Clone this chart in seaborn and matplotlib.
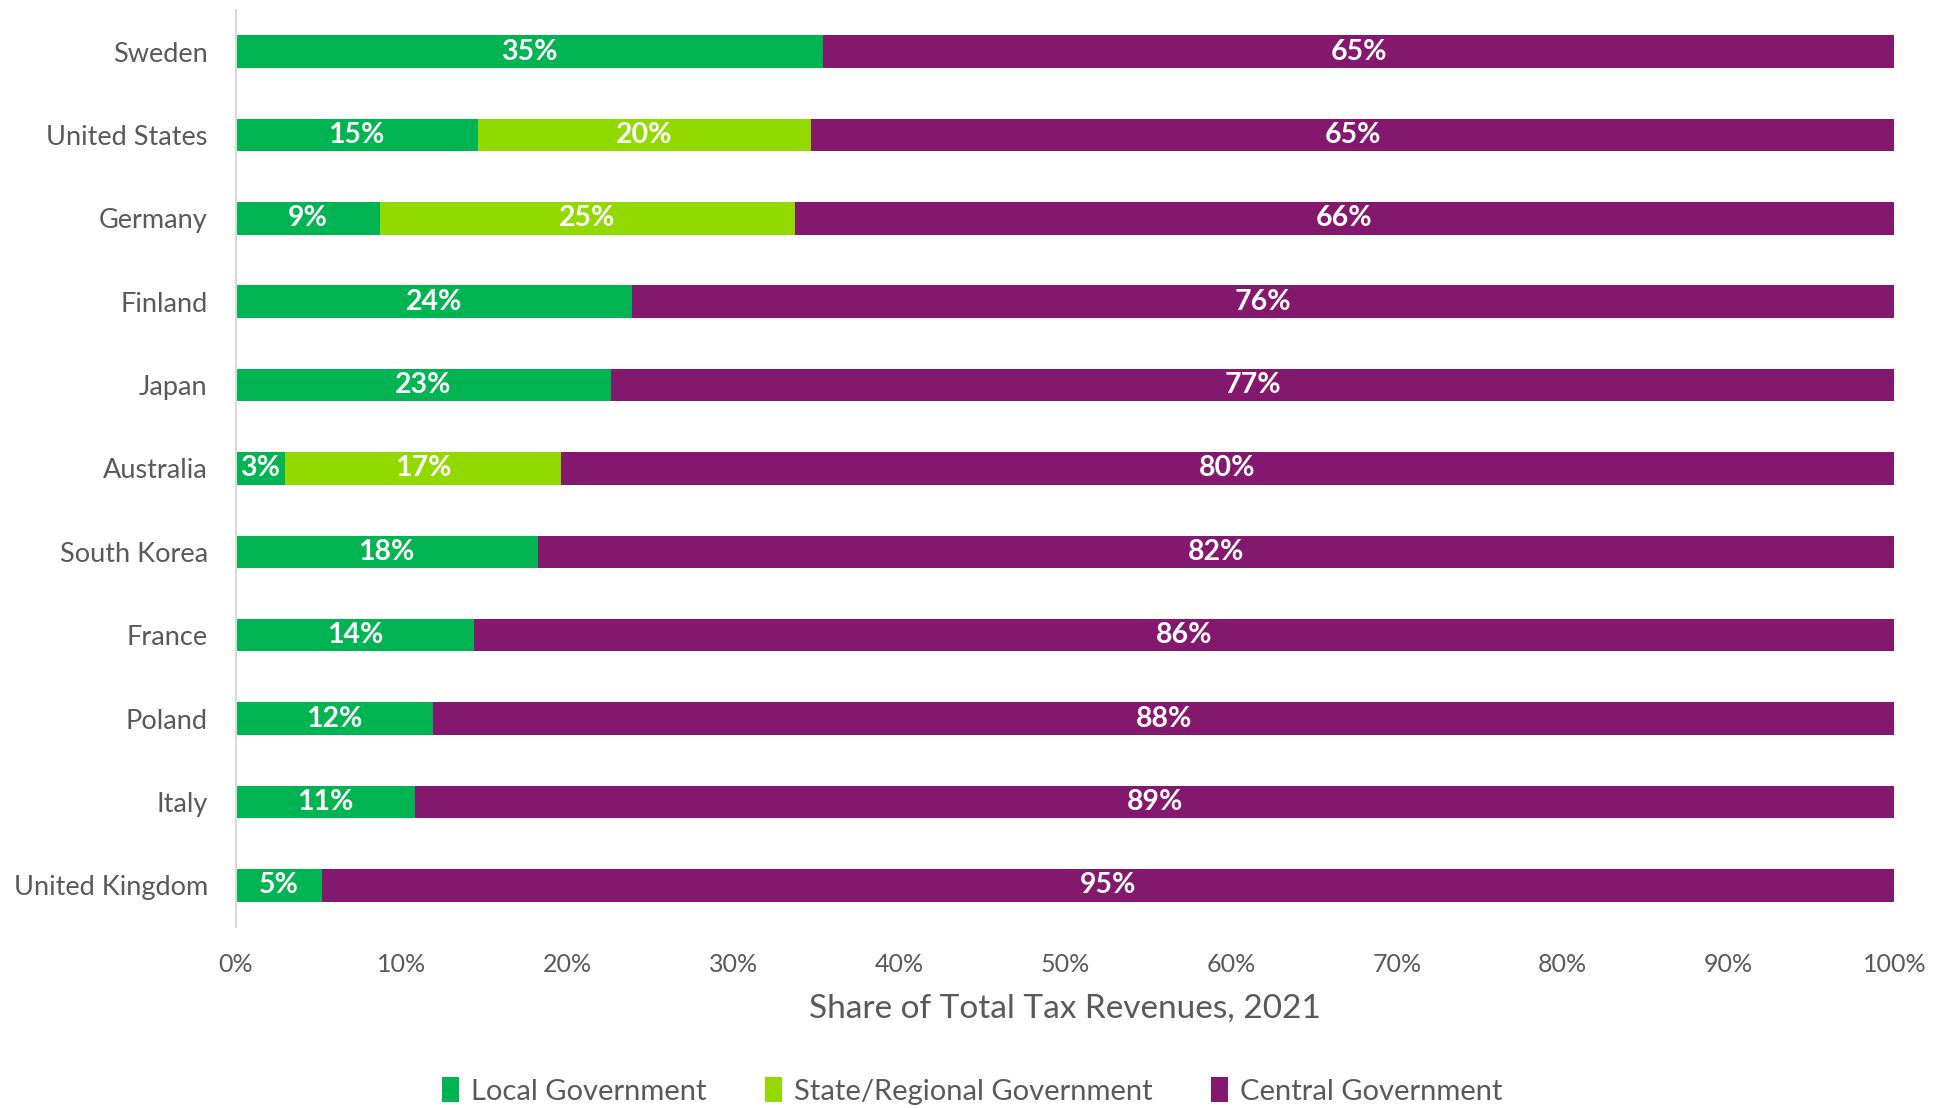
import numpy as np
import pandas as pd
import matplotlib
matplotlib.use("Agg")
import matplotlib.pyplot as plt
from matplotlib.patches import Patch
import seaborn as sns

# share of total tax revenues 2021, by level of government (%)
countries = ["Sweden", "United States", "Germany", "Finland", "Japan", "Australia",
             "South Korea", "France", "Poland", "Italy", "United Kingdom"]
local = [35.4, 14.6, 8.7, 23.9, 22.6, 3.0, 18.2, 14.4, 11.9, 10.8, 5.2]
state = [0, 20.1, 25.0, 0, 0, 16.6, 0, 0, 0, 0, 0]
central = [64.6, 65.3, 66.3, 76.1, 77.4, 80.4, 81.8, 85.6, 88.1, 89.2, 94.8]

series = ["Local Government", "State/Regional Government", "Central Government"]
colors = ["#00B451", "#92D900", "#84186F"]
xticks = [0, 10, 20, 30, 40, 50, 60, 70, 80, 90, 100]

sns.set_theme(style="white")
plt.rcParams["font.family"] = ["Lato", "DejaVu Sans"]
grey = "#595959"

df = pd.DataFrame({"country": countries, "local": local, "state": state, "central": central})
df["c1"] = df["local"]
df["c2"] = df["local"] + df["state"]
df["c3"] = df["c2"] + df["central"]

fig = plt.figure(figsize=(19.44, 11.08), dpi=100)
ax = fig.add_axes([0.1212, 0.1634, 0.9745 - 0.1212, 0.991 - 0.1634])

# stacked bars drawn back to front from cumulative totals
for col, c in zip(["c3", "c2", "c1"], colors[::-1]):
    sns.barplot(data=df, x=col, y="country", color=c, width=0.39,
                orient="h", ax=ax, saturation=1, edgecolor="none")

# segment labels
for i, row in df.iterrows():
    starts = [0, row["c1"], row["c2"]]
    vals = [row["local"], row["state"], row["central"]]
    for s, v in zip(starts, vals):
        if v > 0:
            ax.text(s + v / 2, i, f"{round(v):.0f}%", ha="center", va="center",
                    color="white", fontsize=20.5, fontweight="bold")

ax.set_xlim(0, 100)
ax.set_ylim(10.5, -0.5)
ax.set_xticks(xticks)
ax.set_xticklabels([f"{t}%" for t in xticks])
ax.tick_params(axis="x", length=0, pad=19, labelsize=18, labelcolor=grey)
ax.tick_params(axis="y", length=0, pad=20, labelsize=19.5, labelcolor=grey)
ax.set_ylabel("")
ax.set_xlabel("Share of Total Tax Revenues, 2021", fontsize=24, color=grey)
ax.xaxis.set_label_coords(0.5, -0.0894)
ax.xaxis.label.set_verticalalignment("center")

for side in ["top", "right", "bottom"]:
    ax.spines[side].set_visible(False)
ax.spines["left"].set_color("#D9D9D9")
ax.spines["left"].set_linewidth(1.5)

handles = [Patch(facecolor=c, edgecolor="none", label=s) for s, c in zip(series, colors)]
fig.legend(handles=handles, loc="center", bbox_to_anchor=(0.5, 1 - 1091 / 1108), ncol=3,
           frameon=False, fontsize=21, labelcolor=grey, handlelength=0.6,
           handleheight=0.9, handletextpad=0.4, columnspacing=2.0)

fig.savefig("out.png", dpi=100)
